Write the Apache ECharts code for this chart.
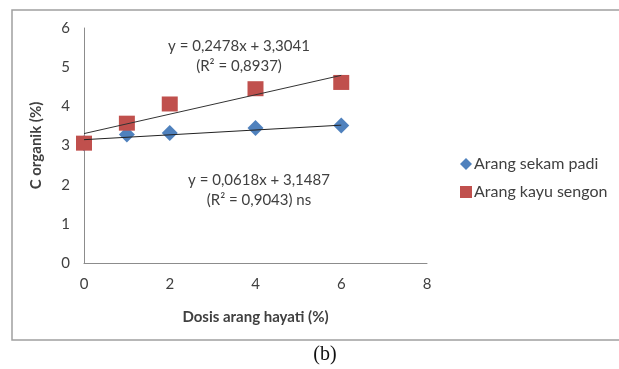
<!DOCTYPE html>
<html>
<head>
<meta charset="utf-8">
<script src="https://cdn.jsdelivr.net/npm/echarts@6/dist/echarts.min.js"></script>
<style>
  html, body { margin: 0; padding: 0; background: #fff; }
  #main { width: 619px; height: 369px; }
</style>
</head>
<body>
<div id="main"></div>
<script>
// dosis arang hayati (%)
var dosis = [0, 1, 2, 4, 6];
var sekamPadi = [3.06, 3.28, 3.32, 3.45, 3.51];
var kayuSengon = [3.06, 3.57, 4.06, 4.45, 4.61];
// regresi linier: [slope, intercept]
var regSekam = [0.0618, 3.1487];
var regSengon = [0.2478, 3.3041];
var xTicks = [0, 2, 4, 6, 8];
var yTicks = [0, 1, 2, 3, 4, 5, 6];

var FONT = 'Lato, "Open Sans", sans-serif';

function pairs(xs, ys) {
	var out = [];
	for (var i = 0; i < xs.length; i++) {
		out.push([xs[i], ys[i]]);
	}
	return out;
}

function trend(reg) {
	var x0 = dosis[0], x1 = dosis[dosis.length - 1];
	return [[x0, reg[0] * x0 + reg[1]], [x1, reg[0] * x1 + reg[1]]];
}

function eqText(x, y, text) {
	return {
		type : 'text',
		x : x,
		y : y,
		style : {
			text : text,
			font : '15px ' + FONT,
			fill : '#404040',
			textAlign : 'center',
			textVerticalAlign : 'middle'
		}
	};
}

var chart = echarts.init(document.getElementById('main'));

var option = {
	backgroundColor : '#fff',
	animation : false,
	textStyle : { fontFamily : FONT },
	grid : {
		left : 84,
		right : 192,
		top : 28,
		bottom : 106
	},
	legend : {
		orient : 'vertical',
		left : 455,
		top : 151,
		itemGap : 12,
		itemWidth : 12,
		itemHeight : 12,
		data : [
			{ name : 'Arang sekam padi', icon : 'diamond' },
			{ name : 'Arang kayu sengon', icon : 'rect' }
		],
		textStyle : {
			fontFamily : FONT,
			fontSize : 16,
			color : '#404040',
			padding : [0, 0, 0, -3]
		}
	},
	xAxis : {
		type : 'value',
		min : 0,
		max : 8,
		interval : 2,
		name : 'Dosis arang hayati (%)',
		nameLocation : 'middle',
		nameGap : 47,
		nameTextStyle : {
			fontFamily : FONT,
			fontSize : 15,
			fontWeight : 'bold',
			color : '#404040'
		},
		axisLine : { lineStyle : { color : '#8c8c8c' } },
		axisTick : { show : false },
		splitLine : { show : false },
		axisLabel : {
			margin : 14,
			fontFamily : FONT,
			fontSize : 15,
			color : '#404040'
		}
	},
	yAxis : {
		type : 'value',
		min : 0,
		max : 6,
		interval : 1,
		name : 'C organik (%)',
		nameLocation : 'middle',
		nameGap : 40,
		nameRotate : 90,
		nameTextStyle : {
			fontFamily : FONT,
			fontSize : 15,
			fontWeight : 'bold',
			color : '#404040'
		},
		axisLine : { show : true, lineStyle : { color : '#8c8c8c' } },
		axisTick : { show : false },
		splitLine : { show : false },
		axisLabel : {
			margin : 14,
			fontFamily : FONT,
			fontSize : 15,
			color : '#404040'
		}
	},
	series : [ {
		name : 'Arang sekam padi',
		type : 'scatter',
		symbol : 'diamond',
		symbolSize : [16, 16],
		itemStyle : { color : '#4f81bd', opacity : 1 },
		data : pairs(dosis, sekamPadi),
		z : 2
	}, {
		name : 'Arang kayu sengon',
		type : 'scatter',
		symbol : 'rect',
		symbolSize : [16, 15],
		itemStyle : { color : '#c0504d', opacity : 1 },
		data : pairs(dosis, kayuSengon),
		z : 3
	}, {
		name : 'trend sengon',
		type : 'line',
		showSymbol : false,
		symbol : 'none',
		lineStyle : { color : '#333', width : 1 },
		data : trend(regSengon),
		silent : true,
		z : 4
	}, {
		name : 'trend sekam',
		type : 'line',
		showSymbol : false,
		symbol : 'none',
		lineStyle : { color : '#222', width : 1 },
		data : trend(regSekam),
		silent : true,
		z : 4
	} ],
	graphic : [
		{
			type : 'rect',
			shape : { x : 12, y : 10, width : 640, height : 330 },
			style : { fill : 'none', stroke : '#a0a0a0', lineWidth : 1.5 },
			z : -1
		},
		eqText(239, 46, 'y = 0,2478x + 3,3041'),
		eqText(239, 66, '(R² = 0,8937)'),
		eqText(259, 180, 'y = 0,0618x + 3,1487'),
		eqText(259, 200, '(R² = 0,9043) ns'),
		{
			type : 'text',
			x : 325,
			y : 355,
			style : {
				text : '(b)',
				font : '20px "Liberation Serif", serif',
				fill : '#111',
				textAlign : 'center',
				textVerticalAlign : 'middle'
			}
		}
	]
};

chart.setOption(option, true);
</script>
</body>
</html>
